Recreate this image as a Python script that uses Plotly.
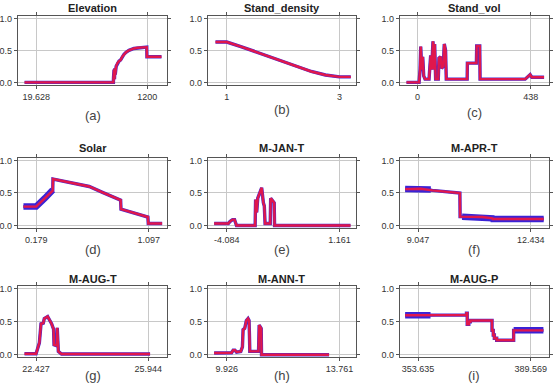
import plotly.graph_objects as go

W, H = 555, 385

titles = ["Elevation", "Stand_density", "Stand_vol", "Solar", "M-JAN-T", "M-APR-T",
          "M-AUG-T", "M-ANN-T", "M-AUG-P"]
panel_labels = ["(a)", "(b)", "(c)", "(d)", "(e)", "(f)", "(g)", "(h)", "(i)"]

# tick values / labels per panel
tick_vals = [[19.628, 1200], [1, 3], [0, 438], [0.179, 1.097], [-4.084, 1.161],
             [9.047, 12.434], [22.427, 25.944], [9.926, 13.761], [353.635, 389.569]]
tick_text = [["19.628", "1200"], ["1", "3"], ["0", "438"], ["0.179", "1.097"],
             ["-4.084", "1.161"], ["9.047", "12.434"], ["22.427", "25.944"],
             ["9.926", "13.761"], ["353.635", "389.569"]]
x_ranges = [[-174.2, 1411.4], [0.665, 3.294], [-67.9, 508.4], [0.0305, 1.2455],
            [-4.956, 1.926], [8.499, 12.982], [21.858, 26.534], [9.289, 14.32],
            [347.822, 395.38]]

# response curves (mean) ------------------------------------------------
elev_x = [-103.7, 840.6, 842.0, 847.7, 852.0, 856.0, 860.0, 870.0, 882.9, 900.0, 918.1,
          935.0, 953.4, 975.0, 1006.2, 1059.1, 1100.0, 1147.2, 1189.4, 1195.0, 1197.0, 1351.5]
elev_y = [0.0, 0.0, 0.08, 0.2, 0.05, 0.22, 0.12, 0.25, 0.3, 0.33, 0.35,
          0.4, 0.44, 0.47, 0.5, 0.53, 0.54, 0.55, 0.56, 0.55, 0.4, 0.4]

dens_x = [0.80, 1.0, 1.25, 1.5, 1.75, 2.0, 2.25, 2.5, 2.75, 3.0, 3.2]
dens_y = [0.63, 0.63, 0.56, 0.48, 0.40, 0.32, 0.24, 0.17, 0.115, 0.085, 0.085]

vol_x = [-42.3, 6.4, 10.2, 12.8, 16.6, 20.5, 24.3, 29.4, 44.8, 51.2, 55.0, 60.1, 64.0,
         66.6, 70.4, 80.6, 83.2, 89.6, 93.4, 99.8, 103.7, 108.8, 111.4, 192.1, 193.0,
         227.9, 229.0, 240.8, 242.0, 416.2, 435.4, 441.8, 489.2]
vol_y = [0.0, 0.0, 0.2, 0.56, 0.2, 0.4, 0.1, 0.05, 0.05, 0.42, 0.2, 0.64, 0.2,
         0.6, 0.05, 0.05, 0.38, 0.4, 0.22, 0.25, 0.6, 0.5, 0.05, 0.05, 0.3,
         0.3, 0.57, 0.57, 0.05, 0.05, 0.12, 0.08, 0.08]

solar_x = [0.0755, 0.179, 0.2, 0.25, 0.314, 0.316, 0.354, 0.449, 0.611, 0.719,
           0.867, 0.870, 0.989, 1.075, 1.089, 1.092, 1.205]
solar_y = [0.29, 0.29, 0.33, 0.42, 0.535, 0.715, 0.70, 0.66, 0.60, 0.51,
           0.39, 0.25, 0.19, 0.14, 0.13, 0.03, 0.03]

jan_x = [-4.665, -4.008, -3.932, -3.810, -3.718, -3.626, -2.762, -2.740, -2.690, -2.640,
         -2.458, -2.420, -2.380, -2.336, -2.300, -2.061, -2.040, -1.877, -1.860, 1.666]
jan_y = [0.03, 0.03, 0.06, 0.09, 0.09, 0.0, 0.0, 0.40, 0.2, 0.42,
         0.58, 0.45, 0.35, 0.3, 0.03, 0.03, 0.42, 0.35, 0.0, 0.0]

apr_x = [8.658, 9.127, 9.476, 9.974, 10.303, 10.310, 10.980, 11.279, 11.289, 12.822]
apr_y = [0.56, 0.565, 0.54, 0.52, 0.50, 0.135, 0.13, 0.11, 0.10, 0.10]

aug_x = [22.065, 22.427, 22.530, 22.582, 22.654, 22.685, 22.789, 22.841, 22.913, 22.975,
         22.990, 23.058, 23.079, 23.090, 23.110, 23.125, 23.224, 24.0, 26.0]
aug_y = [0.015, 0.015, 0.18, 0.47, 0.48, 0.55, 0.58, 0.54, 0.47, 0.39,
         0.15, 0.14, 0.15, 0.41, 0.15, 0.05, 0.01, 0.01, 0.01]

ann_x = [9.501, 10.037, 10.093, 10.149, 10.205, 10.261, 10.406, 10.462, 10.484, 10.540,
         10.596, 10.652, 10.686, 10.700, 10.712, 11.009, 11.030, 11.099, 11.110, 13.403]
ann_y = [0.025, 0.025, 0.03, 0.07, 0.07, 0.04, 0.05, 0.12, 0.38, 0.40,
         0.52, 0.55, 0.52, 0.30, 0.05, 0.05, 0.45, 0.40, 0.0, 0.0]

augp_x = [349.513, 369.072, 369.072, 369.30, 369.30, 369.80, 369.80, 370.30, 370.30,
          377.208, 377.208, 377.60, 377.60, 377.95, 377.95, 378.70, 378.70, 384.10,
          384.10, 393.583]
augp_y = [0.60, 0.605, 0.63, 0.63, 0.46, 0.46, 0.50, 0.50, 0.52,
          0.52, 0.37, 0.37, 0.30, 0.30, 0.25, 0.25, 0.22, 0.22,
          0.37, 0.37]

curves_x = [elev_x, dens_x, vol_x, solar_x, jan_x, apr_x, aug_x, ann_x, augp_x]
curves_y = [elev_y, dens_y, vol_y, solar_y, jan_y, apr_y, aug_y, ann_y, augp_y]

# wider +/- SD band segments (blue) where visible
solar_sd_x = [0.0755, 0.179, 0.25, 0.314]
solar_sd_y = [0.29, 0.29, 0.42, 0.545]
apr_sd_x = [8.658, 9.43, None, 10.37, 10.98, 11.279, 11.289, 12.822]
apr_sd_y = [0.56, 0.555, None, 0.135, 0.13, 0.11, 0.10, 0.10]
augp_sd_x = [349.513, 357.6, None, 384.10, 393.583]
augp_sd_y = [0.60, 0.60, None, 0.37, 0.37]
sd_x = [None, None, None, solar_sd_x, None, apr_sd_x, None, None, augp_sd_x]
sd_y = [None, None, None, solar_sd_y, None, apr_sd_y, None, None, augp_sd_y]

# layout geometry (pixels)
col_px = [(15, 165), (206, 355), (399, 549)]
row_px = [(14, 84), (158, 229), (288, 360)]
title_py = [6, 148, 281]
label_py = [[115, 109, 112], [251, 251, 251], [378, 378, 378]]

fig = go.Figure()
annotations = []
for i in range(9):
    r, c = divmod(i, 3)
    n = i + 1
    xa = "x" if n == 1 else f"x{n}"
    ya = "y" if n == 1 else f"y{n}"
    if sd_x[i] is not None:
        fig.add_trace(go.Scatter(x=sd_x[i], y=sd_y[i], mode="lines",
                                 line=dict(color="#3a22d6", width=6.5),
                                 xaxis=xa, yaxis=ya, showlegend=False, hoverinfo="skip"))
    fig.add_trace(go.Scatter(x=curves_x[i], y=curves_y[i], mode="lines",
                             line=dict(color="#4a2ad0", width=3.4),
                             xaxis=xa, yaxis=ya, showlegend=False, hoverinfo="skip"))
    fig.add_trace(go.Scatter(x=curves_x[i], y=curves_y[i], mode="lines",
                             line=dict(color="#e0174c", width=2.4),
                             xaxis=xa, yaxis=ya, showlegend=False))
    x0, x1 = col_px[c]
    y0, y1 = row_px[r]
    axis_common = dict(showline=True, linecolor="#555555", linewidth=1, mirror="ticks",
                       ticks="outside", ticklen=3, tickcolor="#555555",
                       showgrid=True, gridcolor="#c8c8c8", gridwidth=1, zeroline=False,
                       tickfont=dict(family="Liberation Sans, Arial", size=9, color="#333333"))
    fig.layout[f"xaxis{'' if n == 1 else n}"] = dict(
        domain=[x0 / W, x1 / W], anchor=ya, range=x_ranges[i],
        tickvals=tick_vals[i], ticktext=tick_text[i], **axis_common)
    fig.layout[f"yaxis{'' if n == 1 else n}"] = dict(
        domain=[1 - y1 / H, 1 - y0 / H], anchor=xa, range=[-0.04, 1.04],
        tickvals=[0, 0.5, 1.0], ticktext=["0.0", "0.5", "1.0"], **axis_common)
    cx = (x0 + x1) / 2 / W
    annotations.append(dict(text=f"<b>{titles[i]}</b>", x=cx, y=1 - title_py[r] / H,
                            xref="paper", yref="paper", showarrow=False,
                            xanchor="center", yanchor="middle",
                            font=dict(family="Liberation Sans, Arial", size=11, color="#222222")))
    annotations.append(dict(text=panel_labels[i], x=cx, y=1 - label_py[r][c] / H,
                            xref="paper", yref="paper", showarrow=False,
                            xanchor="center", yanchor="middle",
                            font=dict(family="Liberation Sans, Arial", size=13, color="#444444")))

fig.update_layout(width=W, height=H, margin=dict(l=0, r=0, t=0, b=0),
                  paper_bgcolor="white", plot_bgcolor="white",
                  annotations=annotations, showlegend=False)
fig.write_html("out.html")
